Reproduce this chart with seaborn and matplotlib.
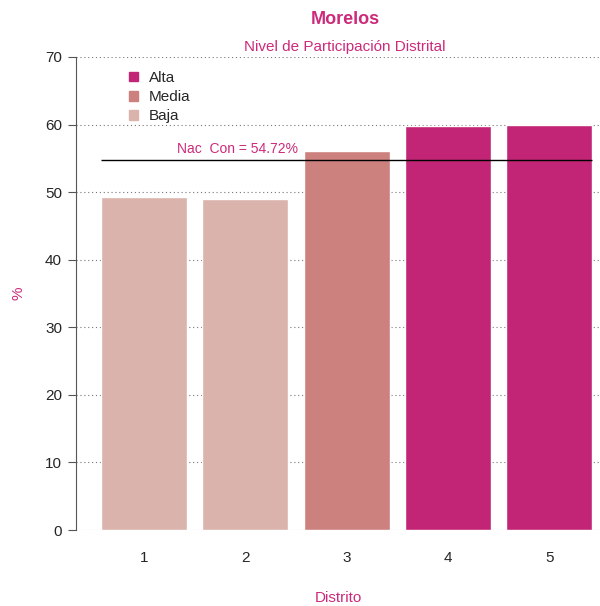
import seaborn as sns
import matplotlib.pyplot as plt
import pandas as pd
from matplotlib.patches import Patch

distritos = ['1', '2', '3', '4', '5']
participacion = [49.3, 49.0, 56.1, 59.8, 59.9]
nivel = ['Baja', 'Baja', 'Media', 'Alta', 'Alta']
nac_con = 54.72

colores = {'Alta': '#C32576', 'Media': '#CD817F', 'Baja': '#DAB3AC'}
rosa = '#CC2A7A'

df = pd.DataFrame({'Distrito': distritos, 'Participacion': participacion, 'Nivel': nivel})

sns.set_style('white')
plt.rcParams['font.family'] = ['Liberation Sans', 'DejaVu Sans']

fig = plt.figure(figsize=(6, 6.06), dpi=100)
ax = fig.add_axes([76 / 600, (606 - 530) / 606, 1 - 76 / 600, (530 - 57) / 606])

for y in range(0, 71, 10):
    ax.axhline(y, color='#777777', linestyle=(0, (1, 2.5)), linewidth=0.8, zorder=0)

sns.barplot(data=df, x='Distrito', y='Participacion', hue='Nivel', palette=colores,
            dodge=False, width=0.85, saturation=1, legend=False, ax=ax, zorder=2)

# linea de referencia nacional
ax.hlines(nac_con, -0.425, 4.425, color='black', linewidth=1, zorder=3)
ax.text(0.92, nac_con + 0.6, 'Nac  Con = %.2f%%' % nac_con, color=rosa,
        fontsize=10, ha='center', va='bottom')

ax.set_xlim(-0.67, 4.5)
ax.set_ylim(0, 70)
ax.set_yticks(range(0, 71, 10))
ax.tick_params(axis='y', length=6, width=0.8, color='#555555', labelsize=11, pad=4, left=True)
ax.tick_params(axis='x', length=0, labelsize=11, pad=15)
for s in ['top', 'right', 'bottom']:
    ax.spines[s].set_visible(False)
ax.spines['left'].set_color('#555555')
ax.spines['left'].set_linewidth(0.8)

ax.set_xlabel('Distrito', color=rosa, fontsize=11, labelpad=19)
ax.set_ylabel('%', color=rosa, fontsize=11, labelpad=14)

handles = [Patch(color=colores[k]) for k in ['Alta', 'Media', 'Baja']]
ax.legend(handles, ['Alta', 'Media', 'Baja'], loc='upper left', bbox_to_anchor=(0.075, 1.0),
          frameon=False, fontsize=11, handlelength=0.6, handleheight=0.6,
          handletextpad=0.7, labelspacing=0.35)

fig.text(345 / 600, 1 - 19 / 606, 'Morelos', color=rosa, fontsize=13, fontweight='bold',
         ha='center', va='center')
fig.text(345 / 600, 1 - 47 / 606, 'Nivel de Participación Distrital', color=rosa, fontsize=11,
         ha='center', va='center')

fig.savefig('out.png', dpi=100, facecolor='white')
